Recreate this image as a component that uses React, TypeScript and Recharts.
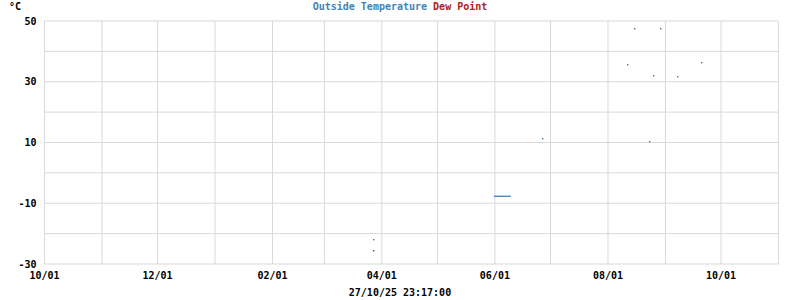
import { LineChart, Line, XAxis, YAxis, CartesianGrid } from "recharts";

// x range and month ticks
const domainStart = "2024-10-01T00:00:00Z";
const domainEnd = "2025-11-01T00:00:00Z";
const monthTicks = [
  "2024-10-01", "2024-11-01", "2024-12-01", "2025-01-01", "2025-02-01",
  "2025-03-01", "2025-04-01", "2025-05-01", "2025-06-01", "2025-07-01",
  "2025-08-01", "2025-09-01", "2025-10-01", "2025-11-01",
];
const tempTicks = [-30, -20, -10, 0, 10, 20, 30, 40, 50];

// Outside Temperature readings
const tempTimes = [
  "2025-03-27T10:00:00Z",
  "2025-05-31T12:00:00Z", "2025-06-01T12:00:00Z", "2025-06-02T12:00:00Z",
  "2025-06-03T12:00:00Z", "2025-06-04T12:00:00Z", "2025-06-05T12:00:00Z",
  "2025-06-06T12:00:00Z", "2025-06-07T12:00:00Z", "2025-06-08T12:00:00Z",
  "2025-06-09T12:00:00Z",
  "2025-06-26T14:00:00Z",
  "2025-08-11T10:00:00Z", "2025-08-15T05:00:00Z", "2025-08-23T07:00:00Z",
  "2025-08-25T12:00:00Z", "2025-08-29T05:00:00Z", "2025-09-07T10:00:00Z",
  "2025-09-20T10:00:00Z",
];
const tempValues = [
  -21.9,
  -7.7, -7.7, -7.7, -7.7, -7.7, -7.7, -7.7, -7.7, -7.7, -7.7,
  11.4,
  35.7, 47.6, 10.4, 32.1, 47.6, 31.8, 36.4,
];

// Dew Point readings
const dewTimes = ["2025-03-27T10:00:00Z"];
const dewValues = [-25.5];

const DAY = 86400000;

type Row = { t: number; temp: number | null; dew: number | null };

function buildRows(): Row[] {
  const map = new Map<number, Row>();
  tempTimes.forEach((s, i) => {
    const t = Date.parse(s);
    const r = map.get(t) || { t, temp: null, dew: null };
    r.temp = tempValues[i];
    map.set(t, r);
  });
  dewTimes.forEach((s, i) => {
    const t = Date.parse(s);
    const r = map.get(t) || { t, temp: null, dew: null };
    r.dew = dewValues[i];
    map.set(t, r);
  });
  const sorted = [...map.values()].sort((a, b) => a.t - b.t);
  // break the line where readings are missing
  const rows: Row[] = [];
  sorted.forEach((r, i) => {
    if (i > 0 && r.t - sorted[i - 1].t > 1.5 * DAY) {
      rows.push({ t: sorted[i - 1].t + DAY, temp: null, dew: null });
    }
    rows.push(r);
  });
  return rows;
}

const rows = buildRows();
const xTicks = monthTicks.map((d) => Date.parse(d + "T00:00:00Z"));

const font = "'DejaVu Sans Mono', monospace";
const tickStyle = { fontFamily: font, fontWeight: "bold", fontSize: 10, fill: "#000" };

const fmtMonth = (v: number, i: number) => {
  if (i % 2 !== 0) return "";
  const d = new Date(v);
  const mm = String(d.getUTCMonth() + 1).padStart(2, "0");
  const dd = String(d.getUTCDate()).padStart(2, "0");
  return `${mm}/${dd}`;
};

const fmtTemp = (v: number) => ((v + 30) % 20 === 0 ? String(v) : "");

// only lone readings get a dot, runs are drawn as a line
const pixelDot = (key: "temp" | "dew", color: string) => (props: any) => {
  const { cx, cy, value, index } = props;
  const prev = rows[index - 1];
  const next = rows[index + 1];
  const lone = (!prev || prev[key] == null) && (!next || next[key] == null);
  if (value == null || cx == null || cy == null || !lone) return <g key={`d-${index}`} />;
  return (
    <rect
      key={`d-${index}`}
      x={Math.floor(cx)}
      y={Math.floor(cy)}
      width={1.4}
      height={1.4}
      fill={color}
    />
  );
};

export default function App() {
  return (
    <div style={{ position: "absolute", left: 0, top: 0, width: 800, height: 300, background: "#fff" }}>
      <LineChart
        width={800}
        height={300}
        data={rows}
        margin={{ top: 21, right: 21.5, left: 0, bottom: 0 }}
      >
        <CartesianGrid stroke="#d9d9d9" strokeWidth={1} />
        <XAxis
          dataKey="t"
          type="number"
          scale="time"
          domain={[Date.parse(domainStart), Date.parse(domainEnd)]}
          ticks={xTicks}
          tickFormatter={fmtMonth}
          tick={tickStyle}
          tickLine={false}
          axisLine={false}
          height={36}
          interval={0}
          allowDataOverflow
        />
        <YAxis
          type="number"
          domain={[-30, 50]}
          ticks={tempTicks}
          tickFormatter={fmtTemp}
          tick={tickStyle}
          tickLine={false}
          axisLine={false}
          width={44.5}
          interval={0}
        />
        <Line
          dataKey="temp"
          stroke="#3d7fbf"
          strokeWidth={1.3}
          dot={pixelDot("temp", "#3d73a8")}
          activeDot={false}
          isAnimationActive={false}
        />
        <Line
          dataKey="dew"
          stroke="#b22222"
          strokeWidth={1.3}
          dot={pixelDot("dew", "#a03030")}
          activeDot={false}
          isAnimationActive={false}
        />
      </LineChart>
      <svg
        width={800}
        height={300}
        style={{ position: "absolute", left: 0, top: 0, pointerEvents: "none" }}
      >
        <text x={9} y={10} fontFamily={font} fontWeight="bold" fontSize={10} fill="#000">
          °C
        </text>
        <text x={400} y={10} textAnchor="middle" fontFamily={font} fontWeight="bold" fontSize={10}>
          <tspan fill="#4682b4">Outside Temperature</tspan>
          <tspan fill="#b22222"> Dew Point</tspan>
        </text>
        <text x={400} y={296} textAnchor="middle" fontFamily={font} fontWeight="bold" fontSize={10} fill="#000">
          27/10/25 23:17:00
        </text>
      </svg>
    </div>
  );
}
